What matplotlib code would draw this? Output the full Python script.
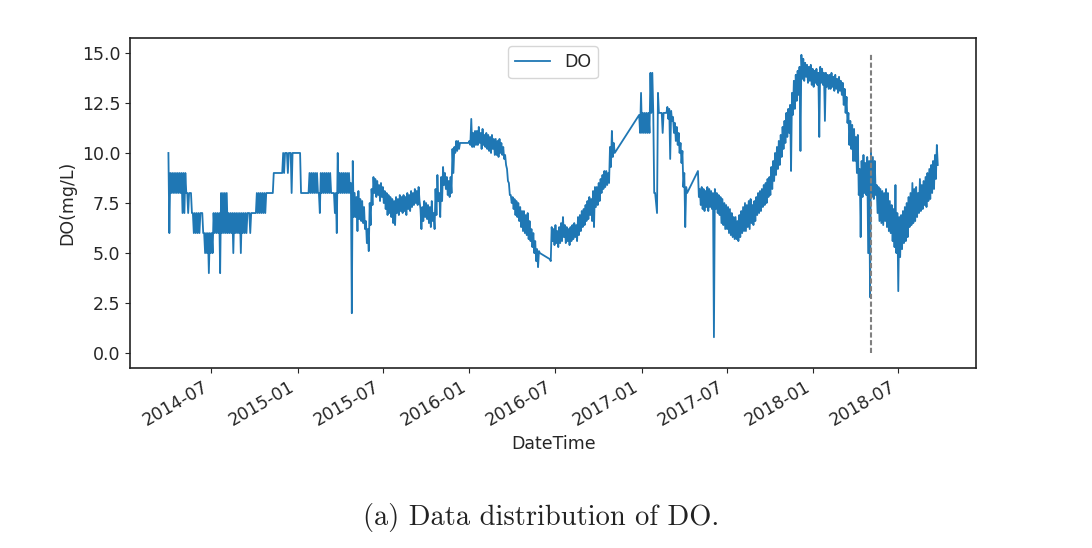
import numpy as np
import pandas as pd
import matplotlib
matplotlib.use("Agg")
import matplotlib.pyplot as plt
import matplotlib.dates as mdates
from matplotlib.ticker import MultipleLocator, FormatStrFormatter

# DO readings: for every 4-day slot a high and a low reading (low taken 2 days later).
# Stretches are separated by gaps in the record.
start_2014 = "2014-04-01"
hi_2014 = [10, 9, 9, 9, 9, 9, 9, 9, 9, 9,
           8, 8, 8, 7, 7, 7, 7, 7, 7, 6,
           6, 6, 6, 6, 7, 7, 7, 7, 8, 8,
           8, 8, 7, 7, 7, 7, 7, 7, 7, 7,
           7, 7, 7, 7, 7, 7, 7, 8, 8, 8,
           8, 8, 8, 8, 8, 8, 9, 9, 9, 9,
           9, 10, 10, 10, 10, 10, 10, 10, 10, 10,
           10, 8, 8, 8, 8, 9, 9, 9, 9, 9,
           8, 9, 9, 9, 9, 9, 9, 8, 8, 8,
           10, 9, 9, 9, 9, 9, 9, 8.5, 9.6,
           8.0, 7.8, 8.1, 7.7, 7.6, 7.3, 6.6, 6.2, 7.5, 8.2,
           8.8, 8.7, 8.6, 8.4, 8.5, 8.3, 8.1, 8.0, 7.9, 7.8,
           7.7, 7.6, 7.8, 7.7, 7.9, 7.8, 7.9, 7.8, 8.0, 7.9,
           8.1, 8.0, 8.2, 8.1, 8.3, 7.2, 7.3, 7.6, 7.5, 7.4,
           7.3, 7.6, 7.0, 8.2, 8.9, 8.0, 8.8, 9.3, 9.0, 8.8,
           8.6, 8.8, 10.2, 10.3, 10.6, 10.6, 10.5, 10.5, 10.5, 10.5,
           10.5, 10.6, 11.7, 11.0, 11.1, 11.1, 11.3, 11.0, 11.2, 10.9,
           11.0, 10.9, 10.8, 10.9, 10.7, 10.7, 10.6, 10.7, 10.5, 10.3,
           9.9, 9.2, 8.5, 7.9, 7.8, 7.7, 7.6, 7.5, 7.3, 7.1,
           7.1, 6.9, 7.0, 6.6, 6.2, 6.0, 5.6, 5.2, 5.1]
lo_2014 = [6, 8, 8, 8, 8, 8, 8, 7, 7, 8,
           7, 8, 7, 6, 6, 6, 6, 7, 6, 5,
           5, 4, 5, 5, 6, 6, 6, 4, 6, 6,
           6, 6, 6, 6, 5, 6, 6, 6, 5, 6,
           6, 6, 7, 6, 7, 7, 7, 7, 7, 7,
           7, 7, 8, 8, 8, 8, 9, 9, 9, 9,
           9, 9, 10, 9, 10, 8, 10, 10, 10, 10,
           8, 8, 8, 8, 8, 8, 8, 8, 8, 8,
           7, 8, 8, 8, 8, 8, 8, 8, 7, 6,
           8, 8, 8, 8, 8, 8, 8, 2.0, 6.8,
           6.8, 6.1, 6.7, 6.6, 6.5, 6.2, 5.5, 5.1, 6.4, 7.4,
           8.0, 7.8, 7.9, 7.6, 7.8, 7.5, 7.2, 6.9, 7.0, 6.8,
           6.5, 6.4, 7.0, 6.9, 7.1, 7.0, 7.1, 6.9, 7.2, 7.1,
           7.3, 7.4, 7.5, 7.4, 7.6, 6.2, 6.6, 6.8, 6.7, 6.5,
           6.3, 6.6, 6.2, 6.9, 7.6, 6.8, 7.6, 8.4, 8.2, 7.9,
           7.8, 8.0, 9.0, 10.0, 10.1, 10.2, 10.5, 10.5, 10.5, 10.5,
           10.5, 10.4, 10.3, 10.3, 10.4, 10.4, 10.5, 10.2, 10.4, 10.3,
           10.2, 10.1, 10.0, 10.2, 9.9, 9.9, 9.8, 10.0, 9.9, 9.7,
           9.4, 8.6, 7.9, 7.5, 7.2, 6.9, 6.8, 6.6, 6.3, 6.1,
           6.0, 5.9, 5.7, 5.6, 5.3, 5.0, 4.6, 4.3, 5.0]

start_2016 = "2016-06-20"
hi_2016 = [4.7, 6.3, 6.2, 6.4, 6.1, 6.3, 6.5, 6.8, 6.4, 6.3,
           6.2, 6.3, 6.4, 6.5, 6.4, 6.8, 6.9, 7.1, 7.2, 7.4,
           7.6, 7.8, 7.7, 8.1, 8.3, 8.3, 8.5, 8.7, 8.9, 9.1,
           9.1, 9.0, 10.3, 11.1, 10.5]
lo_2016 = [4.6, 5.6, 5.4, 5.5, 5.3, 5.5, 5.6, 5.8, 5.5, 5.6,
           5.4, 5.6, 5.7, 5.8, 5.6, 5.9, 6.1, 6.3, 6.4, 6.6,
           6.7, 6.9, 6.6, 6.3, 7.3, 7.4, 7.6, 8.0, 8.2, 8.3,
           8.4, 8.5, 9.3, 9.8, 10.0]

start_2017a = "2016-12-27"
hi_2017a = [11.9, 13.0, 12.0, 12.0, 12.0, 12.0, 14.0, 14.0, 8.0, 7.5,
            13.0, 12.0, 12.0, 12.0, 12.0, 12.3, 12.2, 12.1, 11.8, 11.5,
            11.3, 11.0, 10.5, 10.1, 9.0, 8.3]
lo_2017a = [11.0, 11.0, 11.0, 11.0, 11.0, 11.0, 12.0, 12.0, 8.0, 7.0,
            12.0, 12.0, 11.0, 12.0, 12.0, 11.7, 9.7, 11.6, 11.0, 10.6,
            10.4, 10.0, 9.5, 8.3, 6.3, 8.0]

start_2017b = "2017-05-01"
hi_2017b = [9.1, 8.2, 8.3, 8.2, 8.1, 8.3, 8.2, 8.1, 8.0, 8.2,
            8.0, 7.9, 7.8, 7.7, 7.5, 7.4, 7.3, 7.2, 7.0, 6.8,
            6.8, 6.6, 6.9, 7.1, 7.3, 7.5, 7.4, 7.6, 7.7, 7.4,
            7.6, 7.8, 8.0, 8.1, 8.2, 8.4, 8.5, 8.7, 8.8, 9.3,
            9.6, 10.0, 10.3, 10.6, 10.9, 11.3, 11.6, 12.0, 12.2, 12.4,
            13.0, 13.6, 13.9, 14.1, 14.3, 14.9, 14.7, 14.5, 14.4, 14.3,
            14.4, 14.2, 14.1, 14.2, 14.0, 14.3, 14.2, 14.0, 14.0, 13.9,
            13.9, 14.0, 13.8, 13.9, 13.7, 13.8, 13.6, 13.5, 13.2, 12.8,
            12.0, 11.6, 11.4, 11.2, 10.8, 10.9, 9.2, 9.6, 9.9, 9.5,
            9.8, 9.6, 10.2, 9.8, 9.6, 8.4, 8.3, 8.2, 8.1, 8.0,
            8.2, 8.0, 7.6, 7.4, 7.2, 8.4, 7.0, 6.8, 6.9, 7.1,
            7.3, 7.5, 7.8, 8.0, 8.5, 8.2, 8.3, 8.0, 8.7, 8.4,
            8.6, 8.8, 9.0, 9.2, 9.4, 9.6, 9.9, 10.4]
lo_2017b = [7.8, 7.4, 7.2, 7.1, 7.3, 7.1, 7.3, 7.2, 0.8, 7.2,
            7.0, 6.9, 6.5, 6.4, 6.2, 6.2, 6.0, 5.9, 5.8, 5.7,
            5.7, 5.6, 5.8, 6.0, 6.1, 6.1, 6.3, 6.2, 6.5, 6.4,
            6.6, 6.9, 7.0, 7.1, 7.3, 7.4, 7.5, 7.8, 7.9, 8.2,
            8.6, 8.9, 9.2, 9.4, 9.8, 10.2, 10.5, 10.8, 11.0, 9.1,
            11.9, 12.2, 12.6, 12.9, 10.1, 13.7, 13.6, 13.8, 13.5, 13.6,
            13.4, 13.3, 13.5, 13.4, 10.8, 13.5, 13.4, 11.6, 13.3, 13.2,
            13.2, 13.3, 13.1, 13.2, 13.0, 13.1, 12.9, 12.4, 12.0, 11.5,
            10.4, 10.2, 9.6, 9.6, 9.0, 7.9, 5.8, 7.8, 8.0, 7.9,
            5.0, 2.8, 7.8, 7.7, 7.9, 7.0, 6.6, 6.5, 6.4, 6.6,
            6.3, 6.1, 6.0, 5.6, 5.3, 5.0, 3.1, 4.8, 5.2, 5.5,
            5.6, 5.8, 6.3, 6.4, 6.5, 6.6, 6.8, 7.0, 7.1, 7.2,
            7.4, 7.3, 7.6, 7.7, 8.0, 8.2, 8.7, 9.4]

split_date = "2018-05-05"


def stretch(start, hi, lo):
    d = pd.date_range(start, periods=len(hi), freq="4D")
    s = pd.concat([pd.Series(hi, index=d),
                   pd.Series(lo, index=d + pd.Timedelta(days=2))])
    return s.sort_index()


do = pd.concat([stretch(start_2014, hi_2014, lo_2014),
                stretch(start_2016, hi_2016, lo_2016),
                stretch(start_2017a, hi_2017a, lo_2017a),
                stretch(start_2017b, hi_2017b, lo_2017b)])

txt = "#262626"
plt.rcParams["font.size"] = 12.5
plt.rcParams["text.color"] = txt
plt.rcParams["axes.labelcolor"] = txt
plt.rcParams["xtick.color"] = txt
plt.rcParams["ytick.color"] = txt

fig = plt.figure(figsize=(10.92, 5.48), dpi=100)
ax = fig.add_axes([0.119, 0.328, 0.775, 0.603])

ax.plot(do.index, do.values, color="#1f77b4", lw=1.3, label="DO")
ax.vlines(pd.Timestamp(split_date), 0, 15, colors="gray", linestyles=(0, (2.5, 1.2)), lw=1.5)

ax.xaxis.set_major_locator(mdates.MonthLocator(bymonth=[1, 7]))
ax.xaxis.set_major_formatter(mdates.DateFormatter("%Y-%m"))
for lab in ax.get_xticklabels():
    lab.set_rotation(30)
    lab.set_ha("right")
ax.yaxis.set_major_locator(MultipleLocator(2.5))
ax.yaxis.set_major_formatter(FormatStrFormatter("%.1f"))

ax.set_xlabel("DateTime")
ax.set_ylabel("DO(mg/L)")
ax.legend(loc="upper center")
for s in ax.spines.values():
    s.set_color("#222222")
    s.set_linewidth(1.2)

fig.text(0.4955, 0.055, "(a) Data distribution of DO.", family="cmr10",
         size=20.5, ha="center", va="center", color="#222222")

fig.savefig("out.png", dpi=100)
